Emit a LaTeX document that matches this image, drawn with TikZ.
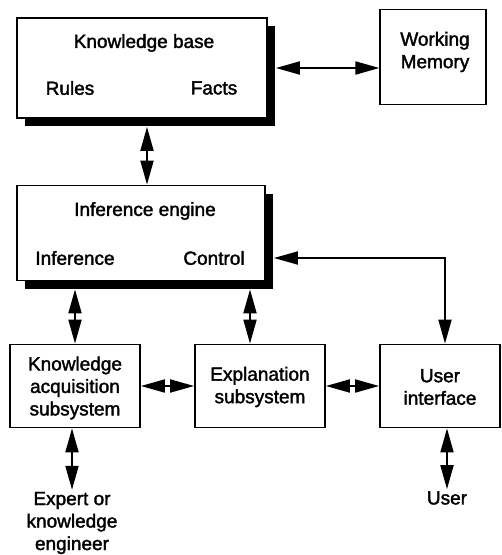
\documentclass[tikz,border=0pt]{standalone}
\usepackage{fontspec}
\setmainfont{Liberation Sans}
\newfontfamily\heavy{Liberation Sans}[BoldFont=Liberation Sans, BoldFeatures={FakeBold=1.8}]
\usepackage{tikz}
\usetikzlibrary{arrows.meta,shadows}

\tikzset{
  box/.style={draw, line width=1.8pt, fill=white, inner sep=0pt},
  shadowbox/.style={box, drop shadow={shadow xshift=8pt, shadow yshift=-8pt, fill=black, opacity=1}},
  thinbox/.style={draw, line width=1.2pt, inner sep=0pt},
  lbl/.style={font=\heavy\bfseries\fontsize{19}{22.5}\selectfont, align=center, inner sep=2pt},
  dbl/.style={line width=1.9pt, {Triangle[length=24pt,width=13pt]}-{Triangle[length=24pt,width=13pt]}}
}

\begin{document}
\begin{tikzpicture}[x=1pt,y=-1pt]
\useasboundingbox (0,0) rectangle (502,555);

% Knowledge base
\node[shadowbox, minimum width=250pt, minimum height=100pt] (kb) at (142,68) {};
\node[lbl] (kbtitle) at (144,43) {Knowledge base};
\node[lbl] (rules) at (70,88) {Rules};
\node[lbl] (facts) at (214,88) {Facts};

% Working memory
\node[thinbox, minimum width=106pt, minimum height=95pt] (wm) at (433,57) {};
\node[lbl] (wmtext) at (435,52) {Working\\Memory};

% Inference engine
\node[shadowbox, minimum width=248pt, minimum height=95pt] (ie) at (141,233) {};
\node[lbl] (ietitle) at (145,211) {Inference engine};
\node[lbl] (infer) at (75,258) {Inference};
\node[lbl] (ctrl) at (214,258) {Control};

% Bottom row
\node[box, minimum width=130pt, minimum height=83pt] (ka) at (75,386) {};
\node[lbl] (katext) at (75,388) {Knowledge\\acquisition\\subsystem};
\node[box, minimum width=130pt, minimum height=83pt] (ex) at (260,386) {};
\node[lbl] (extext) at (260,387) {Explanation\\subsystem};
\node[box, minimum width=120pt, minimum height=83pt] (ui) at (440,386) {};
\node[lbl] (uitext) at (440,387) {User\\interface};

% Outside
\node[lbl] (expert) at (72,523) {Expert or\\knowledge\\engineer};
\node[lbl] (user) at (447,498) {User};

% connectors
\coordinate (kbr) at ([xshift=8pt]kb.east);
\coordinate (kbb) at ([xshift=5pt,yshift=-8pt]kb.south);
\coordinate (ier) at ([xshift=8pt]ie.east);
\coordinate (ieb) at ([yshift=-8pt]ie.south);
\coordinate (exn) at ([xshift=-10pt]ex.north);
\coordinate (uin) at ([xshift=5pt]ui.north);
\draw[dbl] (kbr) -- (wm.west |- kbr);
\draw[dbl] (kbb) -- (kbb |- ie.north);
\draw[dbl] (ier |- ctrl) -| (uin);
\draw[dbl] (ka.north |- ieb) -- (ka.north);
\draw[dbl] (exn |- ieb) -- (exn);
\draw[dbl] (ka.east) -- (ex.west);
\draw[dbl] (ex.east) -- (ui.west);
\draw[dbl] (ka.south -| expert.north) -- (expert.north);
\draw[dbl] (ui.south -| user.north) -- (user.north);
\end{tikzpicture}
\end{document}
